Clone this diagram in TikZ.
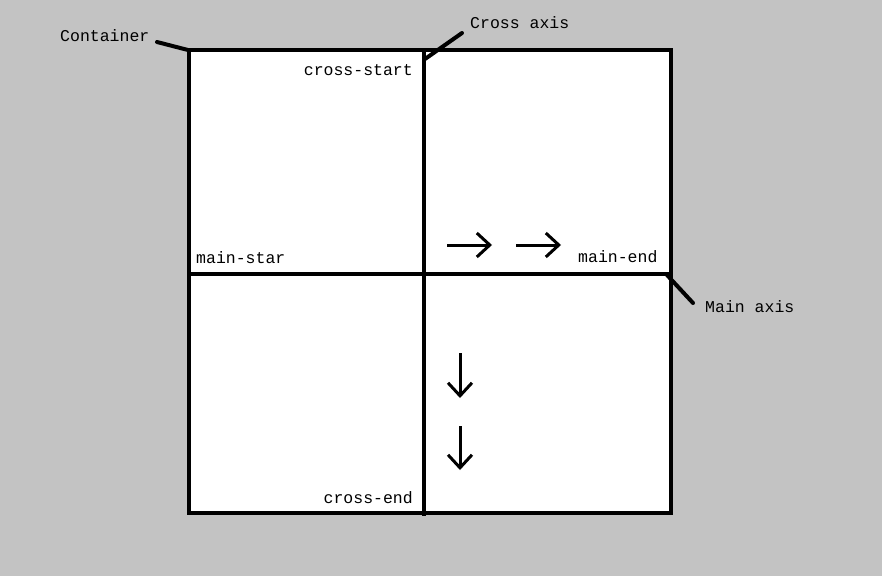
\documentclass[tikz,border=0pt]{standalone}
\usepackage{fontspec}
\setmonofont{Liberation Mono}
\usetikzlibrary{arrows.meta}
\definecolor{paintgray}{RGB}{195,195,195}

\begin{document}
\begin{tikzpicture}[x=1pt, y=-1pt,
	LabelStyle/.style = {font=\ttfamily\fontsize{16.5}{18}\selectfont, inner sep=0pt},
	AxisStyle/.style = {line width=4pt},
	LeaderStyle/.style = {line width=4pt, line cap=round},
	FlowStyle/.style = {line width=3pt, -{Straight Barb[length=13pt,width=24pt]}}]

			% canvas
			\fill[paintgray] (0,0) rectangle (882,576);
			\useasboundingbox (0,0) rectangle (882,576);

			% container and the two axes
			\coordinate (TopLeft) at (189,50);
			\coordinate (BottomRight) at (671,513);
			\coordinate (CrossTop) at (424,50);
			\coordinate (CrossBottom) at (424,516);
			\coordinate (MainLeft) at (189,274);
			\coordinate (MainRight) at (671,274);

			\draw[AxisStyle, fill=white] (TopLeft) rectangle (BottomRight);
			\draw[AxisStyle] (CrossTop) -- (CrossBottom);
			\draw[AxisStyle] (MainLeft) -- (MainRight);

			% labels
			\node[LabelStyle, anchor=base west] (container) at (60,41) {Container};
			\node[LabelStyle, anchor=base west] (crossaxis) at (470,28) {Cross axis};
			\node[LabelStyle, anchor=base west] (mainaxis) at (705,312) {Main axis};
			\node[LabelStyle, anchor=base east] (crossstart) at (413,75) {cross-start};
			\node[LabelStyle, anchor=base east] (crossend) at (413,503) {cross-end};
			\node[LabelStyle, anchor=base west] (mainstart) at (196,263) {main-star};
			\node[LabelStyle, anchor=base west] (mainend) at (578,262) {main-end};

			% leaders
			\coordinate (ContainerTail) at (157,42);
			\coordinate (ContainerHead) at (188,50);
			\coordinate (CrossTail) at (462,33);
			\coordinate (CrossHead) at (425,59);
			\coordinate (MainTail) at (693,303);
			\coordinate (MainHead) at (667,275);

			\path[LeaderStyle, draw]
				(ContainerTail) -- (ContainerHead)
				(CrossTail) -- (CrossHead)
				(MainTail) -- (MainHead)
			;

			% flow direction
			\coordinate (R1a) at (447,245);
			\coordinate (R1b) at (492,245);
			\coordinate (R2a) at (516,245);
			\coordinate (R2b) at (561,245);
			\coordinate (D1a) at (460,353);
			\coordinate (D1b) at (460,398);
			\coordinate (D2a) at (460,426);
			\coordinate (D2b) at (460,470);

			\path[FlowStyle]
				(R1a) edge (R1b)
				(R2a) edge (R2b)
				(D1a) edge (D1b)
				(D2a) edge (D2b)
			;
		\end{tikzpicture}
\end{document}
